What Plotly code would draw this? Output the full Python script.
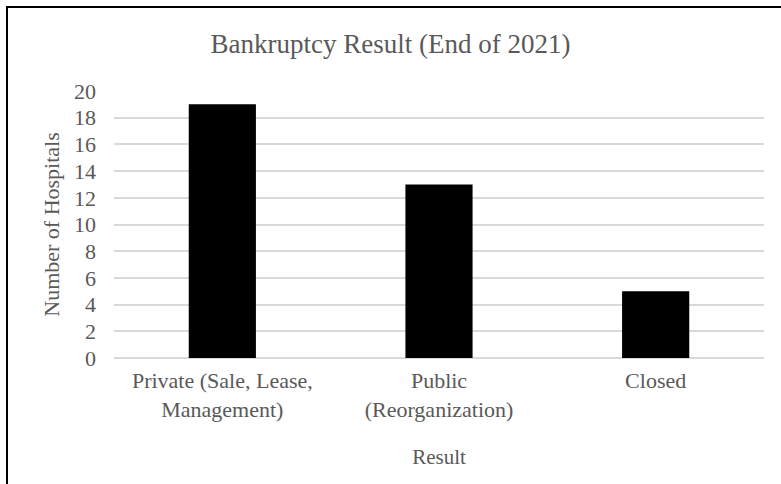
import plotly.graph_objects as go

# Bankruptcy outcome of hospitals, end of 2021
categories = ["Private (Sale, Lease,<br>Management)", "Public<br>(Reorganization)", "Closed"]
hospitals = [19, 13, 5]
y_ticks = [0, 2, 4, 6, 8, 10, 12, 14, 16, 18, 20]

W, H = 781, 484
L, R, T, B = 114, 17, 91, 126
pw, ph = W - L - R, H - T - B

FONT = "Liberation Serif, Times New Roman, serif"
TXT = "#595959"

fig = go.Figure(
    go.Bar(
        x=categories,
        y=hospitals,
        marker=dict(color="black", line=dict(width=0)),
        width=0.31,
    )
)

# frame around the chart (open at right and bottom edges of the canvas)
def px_to_paper_x(px):
    return (px - L) / pw

def px_to_paper_y(py):
    return (H - B - py) / ph

fig.add_shape(
    type="rect",
    xref="paper", yref="paper",
    x0=px_to_paper_x(7), x1=px_to_paper_x(800),
    y0=px_to_paper_y(500), y1=px_to_paper_y(7),
    line=dict(color="black", width=2),
    fillcolor="rgba(0,0,0,0)",
    layer="below",
)

fig.update_layout(
    width=W, height=H,
    margin=dict(l=L, r=R, t=T, b=B),
    paper_bgcolor="white",
    plot_bgcolor="white",
    showlegend=False,
    font=dict(family=FONT, color=TXT, size=22),
    title=dict(
        text="Bankruptcy Result (End of 2021)",
        x=0.5, xref="container", xanchor="center",
        y=1 - 44 / H, yref="container", yanchor="middle",
        font=dict(family=FONT, size=27, color=TXT),
    ),
    xaxis=dict(
        title=dict(text="Result", font=dict(family=FONT, size=21, color=TXT), standoff=28),
        showgrid=False,
        showline=False,
        ticks="",
        ticklabelstandoff=7,
        tickfont=dict(family=FONT, size=22, color=TXT),
    ),
    yaxis=dict(
        title=dict(text="Number of Hospitals", font=dict(family=FONT, size=22, color=TXT), standoff=8),
        range=[0, 20],
        tickvals=y_ticks,
        showgrid=True,
        gridcolor="#d9d9d9",
        gridwidth=1.5,
        zeroline=True,
        zerolinecolor="#d9d9d9",
        zerolinewidth=1.5,
        showline=False,
        ticks="",
        ticklabelstandoff=17,
        tickfont=dict(family=FONT, size=22, color=TXT),
    ),
)

fig.write_html("out.html")
